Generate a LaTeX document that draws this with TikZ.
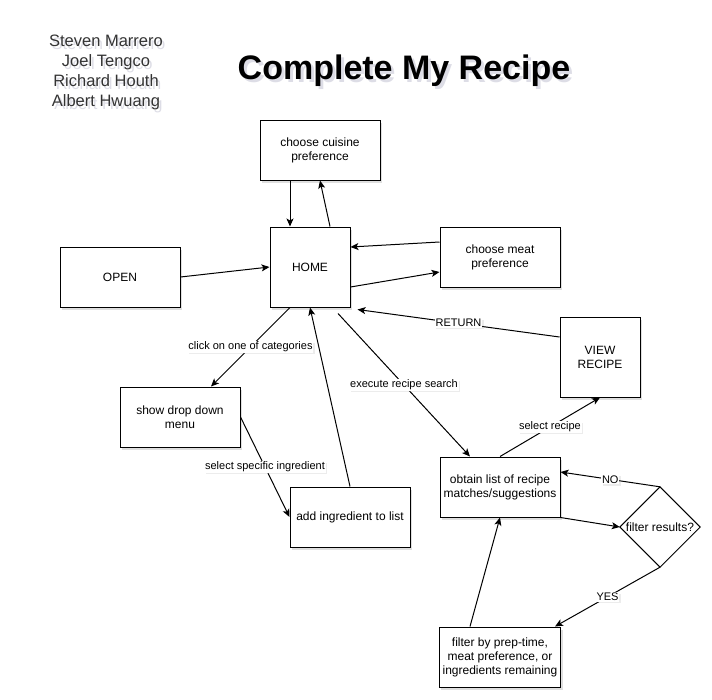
\documentclass[tikz,border=0pt]{standalone}
\usepackage{fontspec}
\setmainfont{Liberation Sans}
\usetikzlibrary{arrows.meta,shadows}
\begin{document}
\begin{tikzpicture}[x=1pt,y=-1pt,
		box/.style={draw,fill=white,line width=1pt,minimum width=120pt,minimum height=60pt,align=center,font=\fontsize{12}{14}\selectfont,drop shadow={shadow xshift=2pt,shadow yshift=-2.5pt,opacity=0.25}},
		sq/.style={box,minimum width=80pt,minimum height=80pt},
		lbl/.style={fill=white,inner sep=0.8pt,font=\fontsize{11}{12}\selectfont,drop shadow={shadow xshift=1.5pt,shadow yshift=-1.5pt,opacity=0.15}},
		flow/.style={line width=1pt,-{Stealth[length=8pt,width=7pt,inset=2pt]}},
		shade/.style={text=blue!25!black!60,opacity=0.22},
		names/.style={align=center,font=\fontsize{16.5}{20}\selectfont},
		heading/.style={anchor=base,font=\fontsize{34}{38}\selectfont\bfseries}]
	\useasboundingbox (0,0) rectangle (712,699);

	\node[names,shade] (namesb) at (108.5,75){Steven Marrero\\Joel Tengco\\Richard Houth\\Albert Hwuang};
	\node[names,text=black!80] (names) at (106,72){Steven Marrero\\Joel Tengco\\Richard Houth\\Albert Hwuang};
	\node[heading,shade] (titleb) at (407,82){Complete My Recipe};
	\node[heading] (title) at (404,79){Complete My Recipe};

	\node[box] (cuisine) at (320,150){choose cuisine\\preference};
	\node[sq] (home) at (310,267){HOME};
	\node[box] (meat) at (500,257){choose meat\\preference};
	\node[box] (open) at (120,277){OPEN};
	\node[sq] (view) at (600,357){VIEW\\RECIPE};
	\node[box] (menu) at (180,417){show drop down\\menu};
	\node[box] (add) at (350,517){add ingredient to list};
	\node[box] (obtain) at (500,487){obtain list of recipe\\matches/suggestions};
	\node[minimum width=80pt,minimum height=80pt,inner sep=0pt,font=\fontsize{12}{14}\selectfont] (filt) at (660,527){filter results?};
	\node[box] (prep) at (500,657){filter by prep-time,\\meat preference, or\\ingredients remaining};

	\draw[line width=1pt] (filt.north) -- (filt.east) -- (filt.south) -- (filt.west) -- cycle;

	\draw[flow] ([xshift=-30pt]cuisine.south) -- ([xshift=-20pt]home.north);
	\draw[flow] ([xshift=20pt]home.north) -- (cuisine.south);
	\draw[flow] ([yshift=15pt]meat.west) -- ([yshift=20pt]home.east);
	\draw[flow] ([yshift=-20pt]home.east) -- ([yshift=-15pt]meat.west);
	\draw[flow] (open.east) -- (home.west);
	\draw[flow] ([yshift=20pt]view.west) -- node[lbl]{RETURN} ([shift={(7pt,-2pt)}]home.south east);
	\draw[flow] ([xshift=-20pt]home.south) -- node[lbl]{click on one of categories} ([xshift=31pt]menu.north);
	\draw[flow] (add.north) -- (home.south);
	\draw[flow] (menu.east) -- node[lbl]{select specific ingredient} (add.west);
	\draw[flow] ([shift={(28pt,-6pt)}]home.south) -- node[lbl]{execute recipe search} ([xshift=-30pt]obtain.north);
	\draw[flow] (obtain.north) -- node[lbl]{select recipe} (view.south);
	\draw[flow] (filt.north) -- node[lbl]{NO} ([yshift=15pt]obtain.east);
	\draw[flow] (obtain.south east) -- (filt.west);
	\draw[flow] (filt.south) -- node[lbl]{YES} ([xshift=55pt]prep.north);
	\draw[flow] ([xshift=-30pt]prep.north) -- (obtain.south);
\end{tikzpicture}
\end{document}
